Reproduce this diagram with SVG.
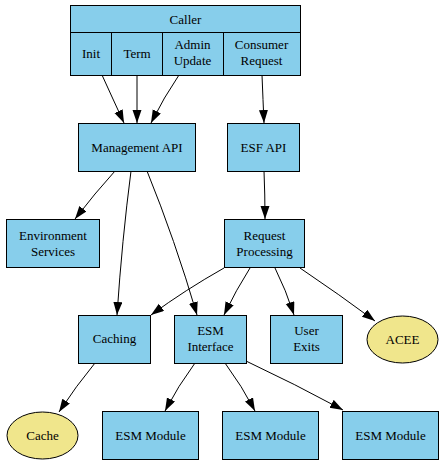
<svg xmlns="http://www.w3.org/2000/svg" width="443" height="464" viewBox="0 0 443 464">
<style>
.n{fill:#87CEEB;stroke:#000;stroke-width:1}
.e{fill:#F0E68C;stroke:#000;stroke-width:1}
text{font-family:'Liberation Serif','Noto Serif','DejaVu Serif',FreeSerif,Tinos,'Times New Roman',Times,serif;font-size:13px;text-anchor:middle;fill:#000}
.c path{fill:none;stroke:#000;stroke-width:1;marker-end:url(#ah)}
</style>
<defs>
<marker id="ah" markerUnits="userSpaceOnUse" markerWidth="14" markerHeight="10" refX="13" refY="4.5" orient="auto">
<path d="M0,0 L13,4.5 L0,9 z" fill="#000" stroke="none"/>
</marker>
</defs>
<rect width="443" height="464" fill="#fff"/>
<g id="caller">
<rect class="n" x="70.5" y="5.5" width="230" height="70"/>
<line x1="70.5" y1="32.5" x2="300.5" y2="32.5" stroke="#000"/>
<line x1="111.5" y1="32.5" x2="111.5" y2="75.5" stroke="#000"/>
<line x1="162.5" y1="32.5" x2="162.5" y2="75.5" stroke="#000"/>
<line x1="223.5" y1="32.5" x2="223.5" y2="75.5" stroke="#000"/>
<text x="185.5" y="23.5">Caller</text>
<text x="91" y="57.5">Init</text>
<text x="137" y="57.5">Term</text>
<text x="192.5" y="48.5">Admin</text>
<text x="192.5" y="65">Update</text>
<text x="261.5" y="48.5">Consumer</text>
<text x="261.5" y="65">Request</text>
</g>
<g id="mgmt"><rect class="n" x="78.5" y="123.5" width="117" height="48"/><text x="137" y="151.5">Management API</text></g>
<g id="esfapi"><rect class="n" x="227.5" y="123.5" width="72" height="48"/><text x="263.5" y="151.5">ESF API</text></g>
<g id="env"><rect class="n" x="6.5" y="219.5" width="93" height="48"/><text x="53" y="239.5">Environment</text><text x="53" y="255.5">Services</text></g>
<g id="reqproc"><rect class="n" x="224.5" y="219.5" width="80" height="48"/><text x="264.5" y="239.5">Request</text><text x="264.5" y="255.5">Processing</text></g>
<g id="caching"><rect class="n" x="78.5" y="315.5" width="72" height="48"/><text x="114.5" y="343">Caching</text></g>
<g id="esmint"><rect class="n" x="174.5" y="315.5" width="72" height="48"/><text x="210.5" y="335">ESM</text><text x="210.5" y="351">Interface</text></g>
<g id="userexits"><rect class="n" x="270.5" y="315.5" width="72" height="48"/><text x="306.5" y="335">User</text><text x="306.5" y="351">Exits</text></g>
<g id="acee"><ellipse class="e" cx="402.5" cy="339.5" rx="35.5" ry="23.5"/><text x="402.5" y="343.5">ACEE</text></g>
<g id="cache"><ellipse class="e" cx="42.5" cy="435.5" rx="35.5" ry="23.5"/><text x="42.5" y="439.5">Cache</text></g>
<g id="esm1"><rect class="n" x="102.5" y="411.5" width="96" height="48"/><text x="150.5" y="439.5">ESM Module</text></g>
<g id="esm2"><rect class="n" x="222.5" y="411.5" width="96" height="48"/><text x="270.5" y="439.5">ESM Module</text></g>
<g id="esm3"><rect class="n" x="342.5" y="411.5" width="96" height="48"/><text x="390.5" y="439.5">ESM Module</text></g>
<g class="c" id="connectors">
<path d="M102,75 Q112,97 124,123"/>
<path d="M137,75 L137,123"/>
<path d="M179,75 Q164,97 151,123"/>
<path d="M262,75 Q263,100 264,123"/>
<path d="M115,171 Q95,193 75,219"/>
<path d="M131,171 Q122,240 117,315"/>
<path d="M147,171 Q175,240 197,315"/>
<path d="M264,171 Q265,195 265,219"/>
<path d="M224,268 Q185,290 151,315"/>
<path d="M250,268 Q236,290 224,315"/>
<path d="M275,268 Q286,290 294,315"/>
<path d="M300,268 Q340,295 375,321"/>
<path d="M95,363 Q76,386 59,412"/>
<path d="M195,363 Q178,386 165,411"/>
<path d="M225,363 Q242,386 255,411"/>
<path d="M246,361 Q295,384 343,410"/>
</g>
</svg>
